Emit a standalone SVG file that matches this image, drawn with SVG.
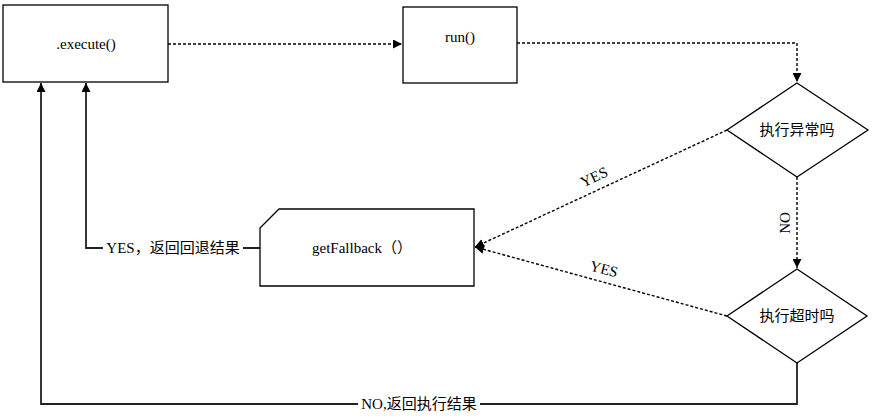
<svg xmlns="http://www.w3.org/2000/svg" width="879" height="417" viewBox="0 0 879 417">
<style>
.shape{fill:#fff;stroke:#000;stroke-width:1.3}
.lbl{font-family:'Liberation Serif','Times New Roman',Times,'Noto Sans CJK SC',serif;font-size:15px;fill:#000;text-anchor:middle;dominant-baseline:central}
.dot{fill:none;stroke:#000;stroke-width:1.4;stroke-dasharray:3,2}
.sol{fill:none;stroke:#222;stroke-width:1.8}
</style>
<defs>
<marker id="ah" viewBox="0 0 10 10" refX="10" refY="5" markerWidth="9" markerHeight="9" markerUnits="userSpaceOnUse" orient="auto">
<path d="M0,0 L10,5 L0,10 z" fill="#000"/>
</marker>
</defs>
<rect width="879" height="417" fill="#fff"/>
<g id="connectors">
<path class="dot" d="M168,44 H402" marker-end="url(#ah)"/>
<path class="dot" d="M517,43 H797 V82" marker-end="url(#ah)"/>
<path class="dot" d="M797,177 V268" marker-end="url(#ah)"/>
<path class="dot" d="M727,130 L475,247" marker-end="url(#ah)"/>
<path class="dot" d="M727,316 L475,247" marker-end="url(#ah)"/>
<path class="sol" d="M260,248 H243 M103,248 H86 V83" marker-end="url(#ah)"/>
<path class="sol" d="M797,363 V404 H480 M358,404 H41 V83" marker-end="url(#ah)"/>
<text class="lbl" transform="translate(594,177) rotate(-25)">YES</text>
<text class="lbl" transform="translate(604,269) rotate(15)">YES</text>
<text class="lbl" transform="translate(785,223) rotate(-90)">NO</text>
<text class="lbl" x="173" y="248">YES，返回回退结果</text>
<text class="lbl" x="419" y="404">NO,返回执行结果</text>
</g>
<g id="execute">
<rect class="shape" x="3" y="5" width="165" height="77"/>
<text class="lbl" x="86" y="44">.execute()</text>
</g>
<g id="run">
<rect class="shape" x="403" y="7" width="114" height="76"/>
<text class="lbl" x="460" y="37">run()</text>
</g>
<g id="exception">
<path class="shape" d="M797,83 L868,130 L797,177 L727,130 z"/>
<text class="lbl" x="797" y="130">执行异常吗</text>
</g>
<g id="timeout">
<path class="shape" d="M797,269 L867,316 L797,363 L727,316 z"/>
<text class="lbl" x="797" y="316">执行超时吗</text>
</g>
<g id="fallback">
<path class="shape" d="M279,209 H474 V286 H260 V228 z"/>
<text class="lbl" x="362" y="248">getFallback（）</text>
</g>
</svg>
